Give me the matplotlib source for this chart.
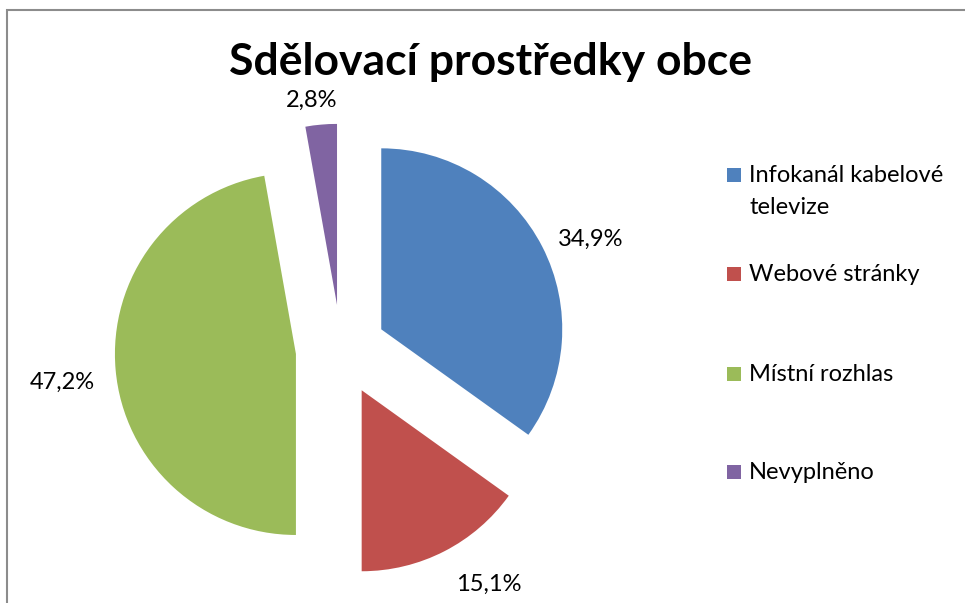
import numpy as np
import matplotlib.pyplot as plt
from matplotlib.patches import Rectangle

title = "Sdělovací prostředky obce"
categories = ["Infokanál kabelové\ntelevize", "Webové stránky", "Místní rozhlas", "Nevyplněno"]
shares = [34.9, 15.1, 47.2, 2.8]
colors = ["#4F81BD", "#C0504D", "#9BBB59", "#8064A2"]

plt.rcParams['font.family'] = ['Lato', 'DejaVu Sans']

W, H = 965, 603
fig = plt.figure(figsize=(W / 100, H / 100), dpi=100)

# frame of the embedded chart (runs off the right and bottom edge)
fig.patches.append(Rectangle((7 / W, -0.05), 1.0, 1 - 10 / H + 0.05, transform=fig.transFigure,
                             fill=False, edgecolor="#8c8c8c", linewidth=1.5))

# pie centre at (341, 350) px, radius 181 px
r_px = 181
lim = 1.4
size = 2 * lim * r_px
ax = fig.add_axes([(341 - size / 2) / W, 1 - (350 + size / 2) / H, size / W, size / H])

wedges, _ = ax.pie(shares, colors=colors, startangle=90, counterclock=False,
                   explode=[0.25] * 4, radius=1.0, wedgeprops=dict(linewidth=0))
ax.set_xlim(-lim, lim); ax.set_ylim(-lim, lim); ax.set_aspect("equal"); ax.axis("off")

label_dist = [1.26, 1.28, 1.3, 1.14]
label_turn = [-4, 6, 2, 2]
for w, v, d, t in zip(wedges, shares, label_dist, label_turn):
    ang = np.deg2rad((w.theta1 + w.theta2) / 2 + t)
    cx, cy = w.center
    ax.text(cx + d * np.cos(ang), cy + d * np.sin(ang), f"{v:.1f}%".replace(".", ","),
            ha="center", va="center", fontsize=17)

fig.text(491 / W, 1 - 62 / H, title, ha="center", va="center", fontsize=32, fontweight="bold")

# legend, laid out as in the original
legend_y = [175, 274, 374, 472]
for lab, c, y in zip(categories, colors, legend_y):
    fig.patches.append(Rectangle((727 / W, 1 - (y + 7) / H), 14 / W, 14 / H,
                                 transform=fig.transFigure, facecolor=c, edgecolor="none"))
    fig.text(749 / W, 1 - (y - 10) / H, lab, ha="left", va="top", fontsize=17, linespacing=1.65)

fig.savefig("out.png", dpi=100)
